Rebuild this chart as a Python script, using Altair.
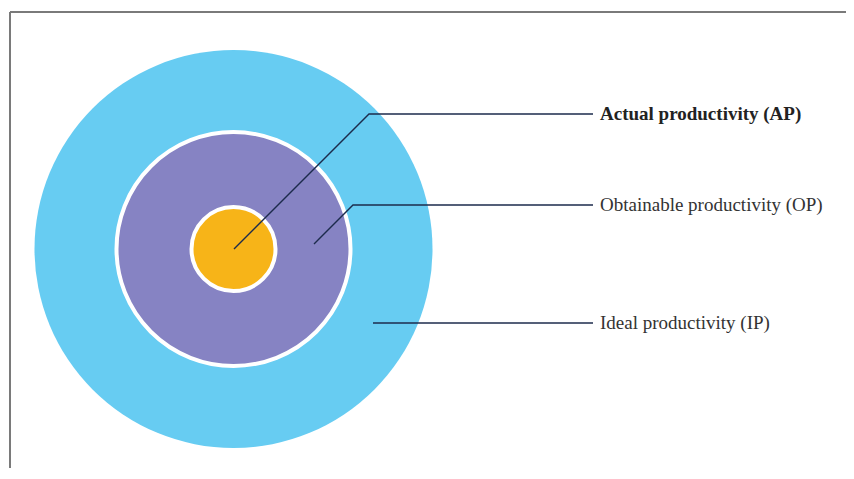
import altair as alt
import pandas as pd

# Nested circles (centre and radii in image pixels)
levels = ["Ideal productivity (IP)", "Obtainable productivity (OP)", "Actual productivity (AP)"]
radii = [199, 117, 42]
fills = ["#67CCF2", "#8683C3", "#F7B418"]
strokes = [0, 4, 4]
center_x = 233.5
center_y = 249

# Leader lines: start point, elbow, end of horizontal
label_names = ["Actual productivity (AP)", "Obtainable productivity (OP)", "Ideal productivity (IP)"]
start_x = [234, 314, 373]
start_y = [249, 244, 323]
elbow_x = [369, 353, 373]
elbow_y = [114, 205, 323]
end_x = [593, 593, 593]
label_x = [600, 600, 600]
label_weight = ["bold", "normal", "normal"]

circ = pd.DataFrame({
    "level": levels,
    "r": radii,
    # Vega circle symbol: size is the square of the diameter
    "area": [(2 * r) ** 2 for r in radii],
    "fill": fills,
    "sw": strokes,
    "cx": [center_x] * 3,
    "cy": [center_y] * 3,
})

rows = []
for i, n in enumerate(label_names):
    rows.append({"label": n, "o": 0, "x": start_x[i], "y": start_y[i]})
    rows.append({"label": n, "o": 1, "x": elbow_x[i], "y": elbow_y[i]})
    rows.append({"label": n, "o": 2, "x": end_x[i], "y": elbow_y[i]})
lines = pd.DataFrame(rows)

labels = pd.DataFrame({
    "label": label_names,
    "x": label_x,
    "y": elbow_y,
    "w": label_weight,
})

W, H = 838, 460
xs = alt.Scale(domain=[8, 8 + W], nice=False, zero=False)
ys = alt.Scale(domain=[8, 8 + H], nice=False, zero=False, reverse=True)
X = lambda f: alt.X(f, type="quantitative", scale=xs, axis=None)
Y = lambda f: alt.Y(f, type="quantitative", scale=ys, axis=None)

circles = alt.Chart(circ).mark_circle(opacity=1, stroke="white").encode(
    x=X("cx"), y=Y("cy"),
    size=alt.Size("area:Q", scale=None, legend=None),
    color=alt.Color("fill:N", scale=None, legend=None),
    strokeWidth=alt.StrokeWidth("sw:Q", scale=None, legend=None),
    order=alt.Order("r:Q", sort="descending"),
)

leader = alt.Chart(lines).mark_line(color="#1C2B4C", strokeWidth=1.4).encode(
    x=X("x"), y=Y("y"),
    detail="label:N",
    order="o:Q",
)

text_bold = alt.Chart(labels[labels.w == "bold"]).mark_text(
    align="left", baseline="middle", font="Liberation Serif", fontSize=19,
    fontWeight="bold", color="#222222",
).encode(x=X("x"), y=Y("y"), text="label:N")

text_norm = alt.Chart(labels[labels.w == "normal"]).mark_text(
    align="left", baseline="middle", font="Liberation Serif", fontSize=19,
    color="#333333",
).encode(x=X("x"), y=Y("y"), text="label:N")

frame_top = alt.Chart(pd.DataFrame({"a": [0]})).mark_rule(color="#7A7A7A", strokeWidth=2).encode(
    x=alt.value(2), x2=alt.value(W), y=alt.value(4))
frame_left = alt.Chart(pd.DataFrame({"a": [0]})).mark_rule(color="#7A7A7A", strokeWidth=2).encode(
    x=alt.value(2), y=alt.value(4), y2=alt.value(H))

chart = alt.layer(frame_top, frame_left, circles, leader, text_bold, text_norm).properties(
    width=W, height=H, padding=0, autosize=alt.AutoSizeParams(type="none"),
    background="white",
).configure_view(stroke=None)

chart.save("out.html", embed_options={"renderer": "svg", "actions": False})
